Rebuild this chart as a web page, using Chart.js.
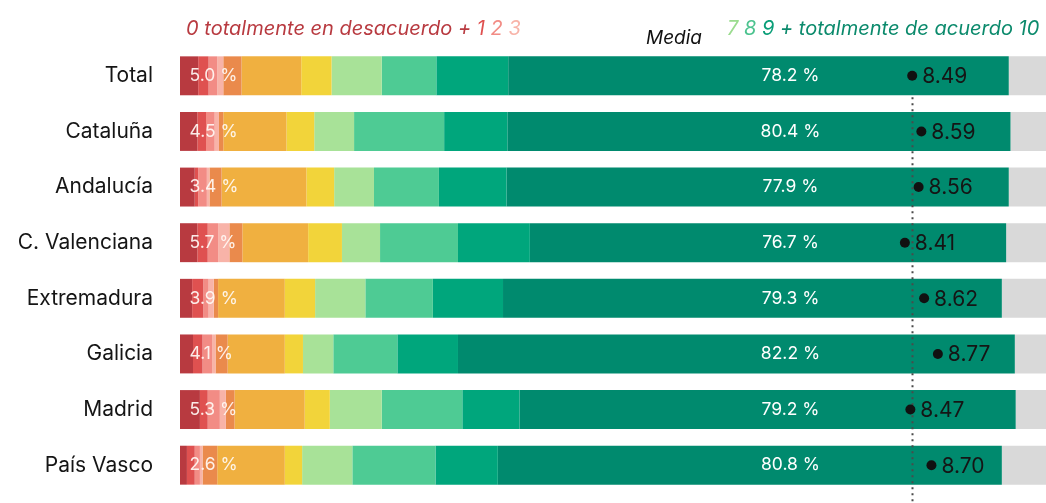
<!DOCTYPE html>
<html><head><meta charset="utf-8">
<script src="https://cdn.jsdelivr.net/npm/chart.js@4.4.1/dist/chart.umd.min.js"></script>
<style>html,body{margin:0;padding:0;background:#fff}#wrap{width:1046px;height:503px;position:relative}</style>
</head><body><div id="wrap"><canvas id="c" width="1046" height="503"></canvas></div>
<script>
const categories = ['Total','Cataluña','Andalucía','C. Valenciana','Extremadura','Galicia','Madrid','País Vasco'];
const v0  = [2.1,2.0,1.7,2.0,1.4,1.5,2.3,0.8];
const v1  = [1.2,1.0,0.4,1.2,1.3,1.1,0.9,0.9];
const v2  = [1.0,1.0,1.0,1.2,0.6,1.1,1.4,0.6];
const v3  = [0.7,0.5,0.3,1.3,0.6,0.4,0.7,0.3];
const v4  = [2.1,0.5,1.4,1.5,0.5,1.4,1.0,1.7];
const v5  = [6.9,7.3,9.8,7.6,7.7,6.6,8.1,7.8];
const v6  = [3.5,3.2,3.2,3.9,3.5,2.1,2.9,2.0];
const v7  = [5.8,4.6,4.6,4.4,5.8,3.5,6.0,5.8];
const v8  = [6.3,10.4,7.5,9.0,7.8,7.4,9.3,9.6];
const v9  = [8.3,7.3,7.8,8.3,8.1,7.0,6.6,7.2];
const v10 = [57.8,58.1,58.0,55.0,57.6,64.3,57.3,58.2];
const vNS = [4.3,4.1,4.3,4.6,5.1,3.6,3.5,5.1];
const lowPct  = [5.0,4.5,3.4,5.7,3.9,4.1,5.3,2.6];
const highPct = [78.2,80.4,77.9,76.7,79.3,82.2,79.2,80.8];
const means   = [8.49,8.59,8.56,8.41,8.62,8.77,8.47,8.70];

const segValues = [v0,v1,v2,v3,v4,v5,v6,v7,v8,v9,v10,vNS];
const segColors = ['#b83a40','#df5150','#f28c85','#f8b3a8','#ea8a4c','#f0b040','#f2d43a','#a8e298','#4ecb94','#00a67c','#008a6e','#d9d9d9'];
const FONT = 'Inter, "Noto Sans", Roboto, sans-serif';

const datasets = [{
  type:'line', label:'Media', xAxisID:'xm', yAxisID:'y',
  data: categories.map((c,i)=>({x:means[i], y:c})),
  showLine:false, pointRadius:5, pointHoverRadius:5,
  pointBackgroundColor:'#111', pointBorderWidth:0
}];
segValues.forEach((arr,k)=>{
  datasets.push({type:'bar', label:'s'+k, data:arr, backgroundColor:segColors[k],
    borderWidth:0, xAxisID:'x', yAxisID:'y', barPercentage:0.7, categoryPercentage:1});
});

const overlay = {
  id:'overlay',
  beforeDatasetDraw(chart,args){
    if(args.index!==0) return;
    const ctx=chart.ctx, xm=chart.scales.xm;
    const barMeta = chart.getDatasetMeta(1).data[0];
    const x = Math.round(xm.getPixelForValue(means[0]))+0.5;
    ctx.save();
    ctx.strokeStyle='#4a4a4a'; ctx.lineWidth=2; ctx.setLineDash([2,4]);
    ctx.beginPath(); ctx.moveTo(x, barMeta.y + barMeta.height/2 + 2); ctx.lineTo(x, chart.height); ctx.stroke();
    ctx.restore();
  },
  afterDatasetsDraw(chart){
    const ctx=chart.ctx, xs=chart.scales.x, xm=chart.scales.xm, ys=chart.scales.y;
    ctx.save();
    ctx.textBaseline='middle';
    categories.forEach((c,i)=>{
      const yy = ys.getPixelForValue(i);
      ctx.font='17.5px '+FONT;
      ctx.fillStyle='rgba(255,250,245,0.92)';
      ctx.textAlign='left';
      ctx.fillText(lowPct[i].toFixed(1)+' %', xs.getPixelForValue(1.1), yy);
      ctx.textAlign='center';
      ctx.fillStyle='#ffffff';
      ctx.fillText(highPct[i].toFixed(1)+' %', xs.getPixelForValue(70.5), yy);
      ctx.font='21px '+FONT;
      ctx.fillStyle='#151515';
      ctx.textAlign='left';
      ctx.fillText(means[i].toFixed(2), xm.getPixelForValue(means[i])+10, yy+1);
    });
    ctx.textBaseline='alphabetic';
    ctx.textAlign='left';
    const drawParts=(parts,x,y,size)=>{
      ctx.font='italic '+size+'px '+FONT;
      parts.forEach(p=>{ctx.fillStyle=p[1]; ctx.fillText(p[0],x,y); x+=ctx.measureText(p[0]).width;});
    };
    drawParts([['0 totalmente en desacuerdo + ','#b83a40'],['1 ','#df5150'],['2 ','#f28c85'],['3','#f8b3a8']], xs.getPixelForValue(0.7), 35, 20);
    drawParts([['Media','#111']], 646, 44, 19);
    drawParts([['7 ','#9bdc8f'],['8 ','#4cc38f'],['9 ','#0a9e78'],['+ totalmente de acuerdo 10','#0b8a6c']], 727, 35, 20);
    ctx.restore();
  }
};

new Chart(document.getElementById('c'),{
  data:{labels:categories, datasets},
  options:{
    indexAxis:'y', responsive:false, animation:false,
    layout:{autoPadding:false, padding:{top:48,bottom:10,left:0,right:0}},
    plugins:{legend:{display:false}, tooltip:{enabled:false}},
    scales:{
      x:{stacked:true, min:0, max:100, display:false},
      xm:{type:'linear', min:0.5, max:9.95, display:false, stacked:false},
      y:{stacked:true, grid:{display:false, drawTicks:false}, border:{display:false},
         ticks:{font:{size:21, family:FONT}, color:'#151515', padding:27},
         afterFit(s){s.width=180; s.paddingTop=0; s.paddingBottom=0;}}
    }
  },
  plugins:[overlay]
});
</script></body></html>
